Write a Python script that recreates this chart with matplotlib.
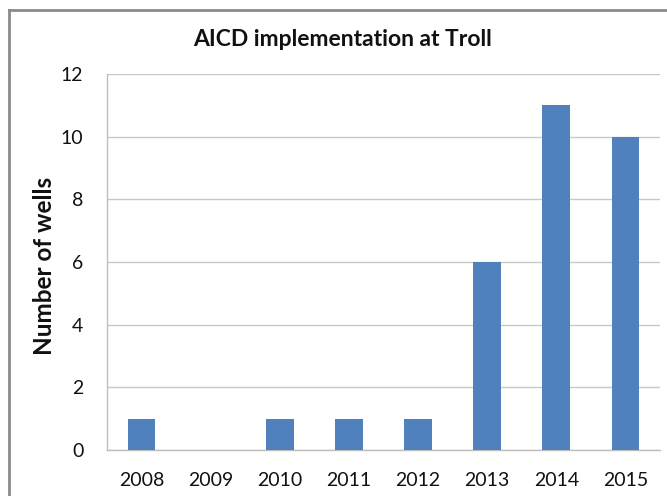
import matplotlib
matplotlib.use("Agg")
import matplotlib.pyplot as plt

years = ['2008', '2009', '2010', '2011', '2012', '2013', '2014', '2015']
wells = [1, 0, 1, 1, 1, 6, 11, 10]
yticks = [0, 2, 4, 6, 8, 10, 12]

plt.rcParams['font.family'] = ['Lato', 'DejaVu Sans']

fig = plt.figure(figsize=(6.67, 4.96), dpi=100)
ax = fig.add_axes([107 / 667, 1 - 450 / 496, 553 / 667, 376 / 496])

ax.bar(range(len(years)), wells, width=0.4, color='#4F81BD', zorder=3)
ax.set_xlim(-0.5, len(years) - 0.5)
ax.set_ylim(0, 12)
ax.set_yticks(yticks)
ax.set_xticks(range(len(years)))
ax.set_xticklabels(years)
ax.yaxis.grid(True, color='#c8c8c8', linewidth=1, zorder=0)
ax.tick_params(length=0, labelsize=14, colors='#111111')
ax.tick_params(axis='x', pad=16)
ax.tick_params(axis='y', pad=17)
for s in ['top', 'right']:
    ax.spines[s].set_visible(False)
for s in ['left', 'bottom']:
    ax.spines[s].set_color('#bdbdbd')
    ax.spines[s].set_linewidth(1)

fig.text(343 / 667, 1 - 40 / 496, 'AICD implementation at Troll', ha='center', va='center',
         fontsize=16.5, fontweight='bold', color='#111111')
fig.text(45 / 667, 1 - 266 / 496, 'Number of wells', ha='center', va='center', rotation=90,
         fontsize=17.5, fontweight='bold', color='#111111')

# outer chart border (only top and left visible in the crop)
fig.add_artist(plt.Line2D([9 / 667, 9 / 667], [0, 1 - 10 / 496], transform=fig.transFigure,
                          color='#8a8a8a', linewidth=2))
fig.add_artist(plt.Line2D([9 / 667, 1], [1 - 10 / 496, 1 - 10 / 496], transform=fig.transFigure,
                          color='#8a8a8a', linewidth=2))

fig.savefig('out.png', dpi=100)
